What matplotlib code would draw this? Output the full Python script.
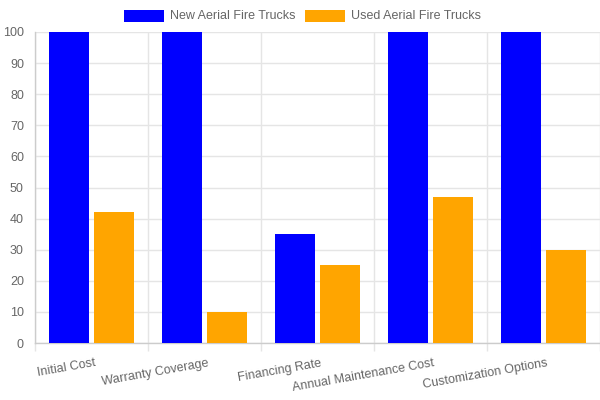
import numpy as np
import matplotlib
matplotlib.use('Agg')
import matplotlib.pyplot as plt
from matplotlib.patches import Rectangle
import matplotlib.transforms as mtransforms

categories = ['Initial Cost', 'Warranty Coverage', 'Financing Rate',
              'Annual Maintenance Cost', 'Customization Options']
new_trucks = [100, 100, 35, 100, 100]
used_trucks = [42, 10, 25, 47, 30]
series_names = ['New Aerial Fire Trucks', 'Used Aerial Fire Trucks']
colors = ['#0000ff', '#ffa500']
yticks = [0, 10, 20, 30, 40, 50, 60, 70, 80, 90, 100]

plt.rcParams['font.family'] = ['Liberation Sans', 'DejaVu Sans']
text_color = '#666666'
grid_color = '#e5e5e5'

fig = plt.figure(figsize=(6, 4), dpi=100)
ax = fig.add_axes([35 / 600, 57 / 400, 565 / 600, 311 / 400])

x = np.arange(len(categories))
w = 0.36
ax.bar(x - 0.2, new_trucks, width=w, color=colors[0], zorder=3)
ax.bar(x + 0.2, used_trucks, width=w, color=colors[1], zorder=3)

ax.set_xlim(-0.5, len(categories) - 0.5)
ax.set_ylim(0, 100)

# grid lines between categories
ax.set_xticks(np.arange(len(categories) + 1) - 0.5)
ax.set_xticklabels([])
ax.tick_params(axis='x', length=6, color=grid_color, width=1)
ax.set_yticks(yticks)
ax.set_yticklabels([str(v) for v in yticks], color=text_color, fontsize=9)
ax.tick_params(axis='y', length=0, pad=8)
ax.grid(True, color=grid_color, linewidth=1, zorder=0)

for s in ['top', 'right']:
    ax.spines[s].set_visible(False)
for s in ['left', 'bottom']:
    ax.spines[s].set_color('#cccccc')
    ax.spines[s].set_linewidth(1)

# rotated category labels
for i, lab in enumerate(categories):
    off = mtransforms.ScaledTranslation(3 / 100, -14 / 100, fig.dpi_scale_trans)
    ax.text(i, 0, lab, transform=ax.transData + off, rotation=10,
            rotation_mode='anchor', ha='right', va='top',
            color=text_color, fontsize=9)

# legend at the top
lx = [124, 305]
for i, name in enumerate(series_names):
    fig.patches.append(Rectangle((lx[i] / 600, 1 - 22 / 400), 40 / 600, 12 / 400,
                                 transform=fig.transFigure, facecolor=colors[i],
                                 edgecolor='none'))
    fig.text((lx[i] + 46) / 600, 1 - 16 / 400, name, ha='left', va='center',
             color=text_color, fontsize=9)

fig.savefig('out.png', dpi=100)
